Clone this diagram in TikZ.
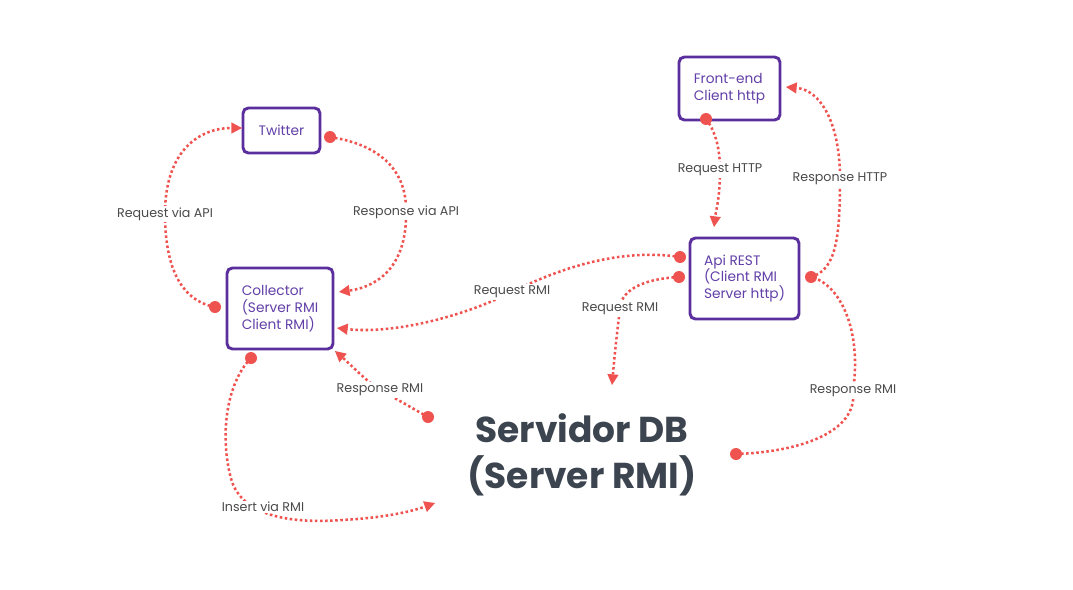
\documentclass[tikz,border=0pt]{standalone}
\usepackage{fontspec}
\setmainfont{Poppins}
\usetikzlibrary{arrows.meta}
\definecolor{boxpurple}{HTML}{5A2E9C}
\definecolor{txtpurple}{HTML}{6240A8}
\definecolor{linered}{HTML}{EF5350}
\definecolor{lblgray}{HTML}{4A4A4A}
\definecolor{bigslate}{HTML}{3B444F}
\tikzset{
  box/.style={draw=boxpurple, line width=2.2pt, rounded corners=4pt, fill=white,
    text=txtpurple, font=\fontsize{10.3}{12.6}\selectfont, align=left, inner sep=0pt},
  lbl/.style={fill=white, text=lblgray, font=\fontsize{9.5}{11}\selectfont, inner sep=1.2pt},
  conn/.style={draw=linered, line width=1.9pt, dash pattern=on 1.9pt off 1.9pt},
  connarrow/.style={conn, -{Triangle[length=8pt,width=8.5pt,fill=linered,line width=0pt]}},
  dotn/.style={circle, fill=linered, minimum size=9pt, inner sep=0pt},
  bigtxt/.style={text=bigslate, font=\fontsize{27}{34}\selectfont\bfseries, align=center}
}
\begin{document}
\begin{tikzpicture}[x=0.75pt, y=-0.75pt]
\useasboundingbox (0,0) rectangle (1073,589);

% boxes
\node[box, minimum width=57.75pt, minimum height=33.75pt, align=center] (twitter) at (281.5,130.5) {Twitter};
\node[box, minimum width=79.5pt, minimum height=60.75pt] (collector) at (280,308.5) {Collector\\(Server RMI\\Client RMI)};
\node[box, minimum width=75.75pt, minimum height=47.25pt] (front) at (729.5,88.5) {Front-end\\Client http};
\node[box, minimum width=81.75pt, minimum height=60.75pt] (api) at (744.5,278.5) {Api REST\\(Client RMI\\Server http)};
\node[bigtxt] (db) at (582,455) {Servidor DB\\(Server RMI)};

% start dots
\node[dotn] (s1) at (215,307) {};
\node[dotn] (s2) at (330,137) {};
\node[dotn] (s3) at (680,257) {};
\node[dotn] (s4) at (679,277) {};
\node[dotn] (s5) at (706,119) {};
\node[dotn] (s7) at (736,454) {};
\node[dotn] (s8) at (428,417) {};
\node[dotn] (s9) at (251,358) {};

% end points
\coordinate (e1) at (242,128);
\coordinate (e2) at (339,292);
\coordinate (e3) at (337,328);
\coordinate (e4) at (612,385);
\coordinate (e5) at (714,227);
\coordinate (e6) at (786,87);
\coordinate (e8) at (335,351);
\coordinate (e9) at (435,503);
\coordinate (s6) at (811,277);

% label positions
\coordinate (l1) at (165,214);
\coordinate (l2) at (406,212);
\coordinate (l3) at (512,292);
\coordinate (l4) at (620,309);
\coordinate (l5) at (720,170);
\coordinate (l6) at (840,179);
\coordinate (l7) at (853,391);
\coordinate (l8) at (380,390);
\coordinate (l9) at (263,507);

% connectors
\draw[connarrow] (s1.center) .. controls (178,300) and (165,262) .. (l1) .. controls (165,150) and (200,128) .. (e1);
\draw[connarrow] (s2.center) .. controls (382,145) and (407,172) .. (l2) .. controls (407,262) and (382,286) .. (e2);
\draw[connarrow] (s3.center) .. controls (620,248) and (560,268) .. (l3) .. controls (460,318) and (392,334) .. (e3);
\draw[connarrow] (s4.center) .. controls (640,279) and (620,292) .. (l4) .. controls (616,340) and (614,362) .. (e4);
\draw[connarrow] (s5.center) .. controls (716,132) and (720,150) .. (l5) .. controls (720,198) and (716,210) .. (e5);
\draw[connarrow] (s6) .. controls (836,270) and (840,238) .. (l6) .. controls (840,122) and (820,90) .. (e6);
\draw[conn] (s7.center) .. controls (800,452) and (858,432) .. (l7) .. controls (862,330) and (840,284) .. (s6);
\draw[connarrow] (s8.center) .. controls (412,408) and (395,398) .. (l8) .. controls (365,380) and (350,364) .. (e8);
\draw[connarrow] (s9.center) .. controls (224,386) and (220,442) .. (232,482) .. controls (246,520) and (300,523) .. (342,520) .. controls (382,518) and (410,512) .. (e9);
\node[dotn] (s6dot) at (s6) {};

% labels
\node[lbl] (t1) at (l1) {Request via API};
\node[lbl] (t2) at (l2) {Response via API};
\node[lbl] (t3) at (l3) {Request RMI};
\node[lbl] (t4) at (l4) {Request RMI};
\node[lbl] (t5) at (l5) {Request HTTP};
\node[lbl] (t6) at (l6) {Response HTTP};
\node[lbl] (t7) at (l7) {Response RMI};
\node[lbl] (t8) at (l8) {Response RMI};
\node[lbl] (t9) at (l9) {Insert via RMI};
\end{tikzpicture}
\end{document}
